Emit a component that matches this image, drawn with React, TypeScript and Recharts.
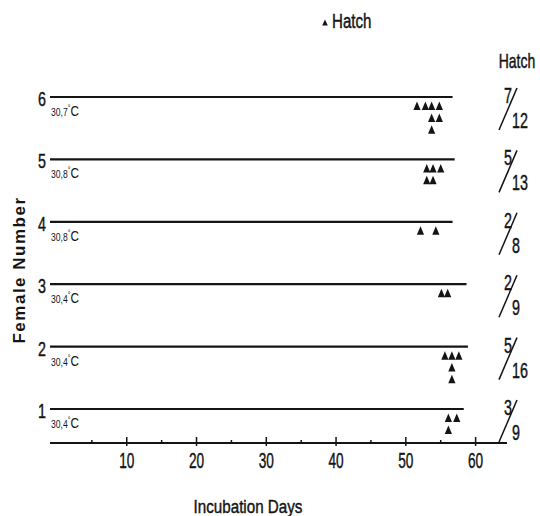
import React from 'react';
import { ScatterChart, Scatter, XAxis, YAxis, ReferenceLine } from 'recharts';

// one entry per female, top to bottom
const females = [6, 5, 4, 3, 2, 1];
const temps = ['30,7', '30,8', '30,8', '30,4', '30,4', '30,4'];
const hatched = [7, 5, 2, 2, 5, 3];
const eggsLaid = [12, 13, 8, 9, 16, 9];
const lastDay = [56.7, 57, 56.7, 58.7, 58.9, 58.3];
const hatchDays = [
  [51.6, 52.8, 53.7, 54.8],
  [53.0, 53.9, 55.0],
  [52.1, 54.3],
  [55.1, 56.0],
  [55.6, 56.6, 57.6],
  [56.1, 57.3],
];
const hatchCounts = [
  [1, 1, 3, 2],
  [2, 2, 1],
  [1, 1],
  [1, 1],
  [1, 3, 1],
  [2, 1],
];
const dayTicks = [5, 10, 15, 20, 25, 30, 35, 40, 45, 50, 55, 60];

const FONT = "'Liberation Sans', Arial, sans-serif";
const INK = '#141414';

// stacked triangles hang below each female's line
const hatchPoints = hatchDays.flatMap((days, i) =>
  days.flatMap((d, j) =>
    Array.from({ length: hatchCounts[i][j] }, (_, k) => ({
      x: d,
      y: females[i] - 0.145 - 0.19 * k,
    }))
  )
);

// condensed look: squeeze a normal sans horizontally
const NText = ({ x, y, size, sx = 0.7, anchor = 'start', children }: any) => (
  <text
    transform={`translate(${x},${y}) scale(${sx},1)`}
    textAnchor={anchor}
    fontFamily={FONT}
    fontSize={size}
    fill={INK}
    stroke={INK}
    strokeWidth={0.45}
  >
    {children}
  </text>
);

const Triangle = (props: any) => {
  const { cx, cy } = props;
  if (cx == null || cy == null) return null;
  return (
    <path
      d={`M${cx},${cy - 4.5} L${cx + 3.6},${cy + 4} L${cx - 3.6},${cy + 4} Z`}
      fill={INK}
    />
  );
};

const DayTick = (props: any) => {
  const { x, y, payload } = props;
  const major = payload.value % 10 === 0;
  return (
    <g>
      <line x1={x} x2={x} y1={y - (major ? 6 : 3)} y2={y + (major ? 3 : 0)} stroke={INK} strokeWidth={1.5} />
      {major && (
        <NText x={x} y={y + 25} size={22} sx={0.62} anchor="middle">
          {payload.value}
        </NText>
      )}
    </g>
  );
};

const RowLabel = (props: any) => {
  const { viewBox, i } = props;
  if (!viewBox) return null;
  const x0 = viewBox.x;
  const ry = viewBox.y;
  return (
    <g>
      <NText x={x0 - 4} y={ry + 9} size={21} sx={0.68} anchor="end">
        {females[i]}
      </NText>
      <text transform={`translate(${x0 + 1},${ry + 19}) scale(0.78,1)`} fontFamily={FONT} fill={INK}>
        <tspan fontSize={11}>{temps[i]}</tspan>
        <tspan fontSize={9} dy={-5}>°</tspan>
        <tspan fontSize={15} dy={5}>C</tspan>
      </text>
      {/* hatched / laid */}
      <NText x={508} y={ry + 6} size={22} sx={0.65} anchor="middle">
        {hatched[i]}
      </NText>
      <line x1={499} y1={ry + 33} x2={517} y2={ry - 9} stroke={INK} strokeWidth={1.5} />
      <NText x={512} y={ry + 31} size={22} sx={0.65}>
        {eggsLaid[i]}
      </NText>
    </g>
  );
};

export default function App() {
  return (
    <div style={{ position: 'absolute', left: 0, top: 0, width: 540, height: 516, background: '#fff' }}>
      <ScatterChart width={540} height={516} margin={{ top: 60, right: 33, bottom: 43, left: 50 }}>
        <XAxis
          type="number"
          dataKey="x"
          domain={[-1, 64.5]}
          ticks={dayTicks}
          interval={0}
          allowDataOverflow
          height={30}
          tickSize={0}
          tickMargin={0}
          tickLine={false}
          axisLine={{ stroke: INK, strokeWidth: 2.2 }}
          tick={<DayTick />}
        />
        <YAxis type="number" dataKey="y" domain={[0.455, 6.593]} allowDataOverflow hide width={0} />
        {females.map((f, i) => (
          <ReferenceLine
            key={f}
            segment={[
              { x: -1, y: f },
              { x: lastDay[i], y: f },
            ]}
            stroke={INK}
            strokeWidth={2.2}
            ifOverflow="visible"
            label={(p: any) => <RowLabel {...p} i={i} />}
          />
        ))}
        <Scatter data={hatchPoints} shape={<Triangle />} isAnimationActive={false} />
      </ScatterChart>
      <svg
        width={540}
        height={516}
        style={{ position: 'absolute', left: 0, top: 0, pointerEvents: 'none' }}
      >
        <path d="M325,19.5 L327.8,25.5 L322.2,25.5 Z" fill={INK} />
        <NText x={332} y={28} size={21} sx={0.72}>Hatch</NText>
        <NText x={517} y={68} size={20} sx={0.7} anchor="middle">Hatch</NText>
        <NText x={248} y={513} size={19} sx={0.8} anchor="middle">Incubation Days</NText>
        <text
          x={25}
          y={270}
          transform="rotate(-90 25 270)"
          textAnchor="middle"
          fontSize={17}
          fontWeight="bold"
          letterSpacing={1.5}
          fontFamily={FONT}
          fill={INK}
        >
          Female Number
        </text>
      </svg>
    </div>
  );
}
